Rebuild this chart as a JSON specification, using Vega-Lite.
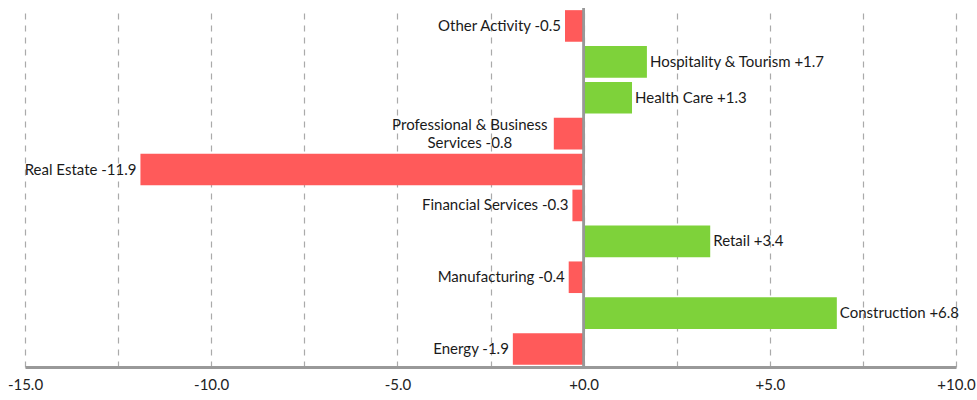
{
  "$schema": "https://vega.github.io/schema/vega-lite/v6.json",
  "width": 931,
  "height": 359,
  "autosize": {"type": "none"},
  "padding": {"left": 25, "top": 8, "right": 21, "bottom": 33},
  "background": "white",
  "config": {"view": {"stroke": null}, "font": "Lato"},
  "data": {"values": [
    {"sector": "Other Activity", "value": -0.5, "label": "Other Activity -0.5"},
    {"sector": "Hospitality & Tourism", "value": 1.7, "label": "Hospitality & Tourism +1.7"},
    {"sector": "Health Care", "value": 1.3, "label": "Health Care +1.3"},
    {"sector": "Professional & Business Services", "value": -0.8, "label": "Professional & Business\nServices -0.8"},
    {"sector": "Real Estate", "value": -11.9, "label": "Real Estate -11.9"},
    {"sector": "Financial Services", "value": -0.3, "label": "Financial Services -0.3"},
    {"sector": "Retail", "value": 3.4, "label": "Retail +3.4"},
    {"sector": "Manufacturing", "value": -0.4, "label": "Manufacturing -0.4"},
    {"sector": "Construction", "value": 6.8, "label": "Construction +6.8"},
    {"sector": "Energy", "value": -1.9, "label": "Energy -1.9"}
  ]},
  "encoding": {
    "y": {"field": "sector", "type": "nominal", "sort": null, "axis": null,
          "scale": {"paddingInner": 0.12, "paddingOuter": 0.06}}
  },
  "layer": [
    {
      "mark": {"type": "bar"},
      "encoding": {
        "x": {"field": "value", "type": "quantitative",
              "scale": {"domain": [-15, 10], "nice": false},
              "axis": {"values": [-15, -12.5, -10, -7.5, -5, -2.5, 0, 2.5, 5, 7.5, 10],
                       "labelExpr": "datum.value % 5 === 0 ? replace(format(datum.value, '+.1f'), '\u2212', '-') : ''",
                       "title": null, "grid": true, "gridDash": [6, 6], "gridColor": "#aaaaaa",
                       "gridWidth": 1.2, "ticks": false, "domainColor": "#999999", "domainWidth": 3,
                       "labelFont": "Lato", "labelFontSize": 15, "labelColor": "#222222",
                       "labelPadding": 10, "labelFlush": false}},
        "color": {"condition": {"test": "datum.value < 0", "value": "#ff5a5a"}, "value": "#7ed23a"}
      }
    },
    {
      "mark": {"type": "rule", "color": "#999999", "strokeWidth": 1.5},
      "encoding": {"x": {"datum": 0, "type": "quantitative"}, "y": null}
    },
    {
      "transform": [{"filter": "datum.value < 0 && indexof(datum.label, '\\n') < 0"}],
      "mark": {"type": "text", "align": "right", "baseline": "middle", "dx": -4, "font": "Lato", "fontSize": 15, "color": "#1a1a1a"},
      "encoding": {
        "x": {"field": "value", "type": "quantitative"},
        "text": {"field": "label"}
      }
    },
    {
      "transform": [{"filter": "indexof(datum.label, '\\n') >= 0"}],
      "mark": {"type": "text", "align": "center", "baseline": "middle", "dx": -84, "dy": -8.5, "font": "Lato", "fontSize": 15, "color": "#1a1a1a", "lineBreak": "\n", "lineHeight": 18},
      "encoding": {
        "x": {"field": "value", "type": "quantitative"},
        "text": {"field": "label"}
      }
    },
    {
      "transform": [{"filter": "datum.value >= 0"}],
      "mark": {"type": "text", "align": "left", "baseline": "middle", "dx": 3, "font": "Lato", "fontSize": 15, "color": "#1a1a1a"},
      "encoding": {
        "x": {"field": "value", "type": "quantitative"},
        "text": {"field": "label"}
      }
    }
  ]
}
